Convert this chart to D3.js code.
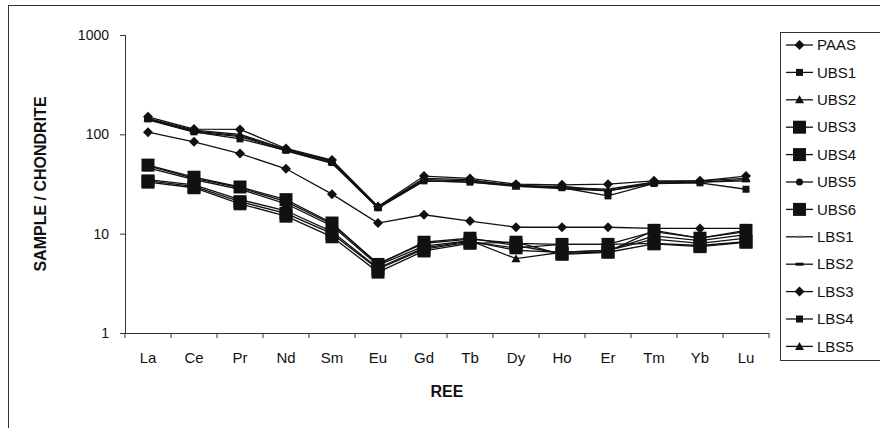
<!DOCTYPE html>
<html>
<head>
<meta charset="utf-8">
<script src="https://cdn.jsdelivr.net/npm/d3@7"></script>
<style>
  body { margin: 0; background: #fff; }
  svg { display: block; font-family: Arial, "Liberation Sans", sans-serif; }
</style>
</head>
<body>
<svg id="chart" width="880" height="428"></svg>
<script>
var elements = ['La', 'Ce', 'Pr', 'Nd', 'Sm', 'Eu', 'Gd', 'Tb', 'Dy', 'Ho', 'Er', 'Tm', 'Yb', 'Lu'];
var yTicks = [1, 10, 100, 1000];

var PAAS = [105, 84, 64, 45, 25, 12.8, 15.5, 13.4, 11.6, 11.6, 11.6, 11.3, 11.3, 11.3];
var UBS1 = [48, 36, 29, 21, 12.5, 5.0, 8.0, 8.8, 8.0, 7.8, 7.8, 10.5, 9.0, 10.5];
var UBS2 = [46, 35, 28, 20, 12, 4.8, 7.5, 8.5, 5.6, 6.5, 6.8, 9.5, 8.5, 9.8];
var UBS3 = [49, 37, 29.5, 22, 12.8, 4.9, 8.2, 9.0, 7.6, 6.3, 6.6, 10.8, 9.0, 10.8];
var UBS4 = [34, 30, 21, 16, 10, 4.4, 7.0, 8.2, 7.2, 7.8, 7.8, 8.0, 7.6, 8.3];
var UBS5 = [35, 31, 22, 17, 10.5, 4.5, 7.2, 8.4, 6.8, 6.5, 6.8, 8.8, 8.0, 9.0];
var UBS6 = [33, 29, 20, 15, 9.3, 4.1, 6.7, 8.0, 8.2, 6.2, 6.5, 7.9, 7.4, 8.2];
var LBS1 = [142, 108, 97, 70, 53, 18.5, 35, 34, 31, 29, 28, 33, 33, 35];
var LBS2 = [140, 105, 95, 68, 51, 18.0, 34, 33, 30, 28.5, 27, 32, 33, 34];
var LBS3 = [150, 113, 112, 72, 55, 18.8, 38, 36, 31.5, 31, 31.5, 34, 34, 38];
var LBS4 = [143, 106, 90, 69, 52, 18.2, 34, 33, 30.5, 29, 24, 32, 32.5, 28];
var LBS5 = [145, 110, 100, 71, 54, 18.6, 36, 35, 30, 30, 27, 33, 34, 36];

// marker shapes, drawn around (0,0)
var markers = {
  diamond: 'M0,-5L5,0L0,5L-5,0Z',
  square: 'M-3.5,-3.5h7v7h-7Z',
  bigSquare: 'M-6.5,-6.5h13v13h-13Z',
  triangle: 'M0,-4.5L4.5,3.5L-4.5,3.5Z',
  circle: 'M3.5,0A3.5,3.5 0 1 1 -3.5,0A3.5,3.5 0 1 1 3.5,0Z',
  dashSmall: 'M-3,-1h6v2h-6Z',
  dash: 'M-4,-1.5h8v3h-8Z'
};

var series = [
  { name: 'PAAS', values: PAAS, marker: 'diamond' },
  { name: 'UBS1', values: UBS1, marker: 'square' },
  { name: 'UBS2', values: UBS2, marker: 'triangle' },
  { name: 'UBS3', values: UBS3, marker: 'bigSquare' },
  { name: 'UBS4', values: UBS4, marker: 'bigSquare' },
  { name: 'UBS5', values: UBS5, marker: 'circle' },
  { name: 'UBS6', values: UBS6, marker: 'bigSquare' },
  { name: 'LBS1', values: LBS1, marker: 'dashSmall' },
  { name: 'LBS2', values: LBS2, marker: 'dash' },
  { name: 'LBS3', values: LBS3, marker: 'diamond' },
  { name: 'LBS4', values: LBS4, marker: 'square' },
  { name: 'LBS5', values: LBS5, marker: 'triangle' }
];

var svg = d3.select('#chart');
var ink = '#111';

// outer chart frame (runs off the right and bottom edges)
svg.append('rect')
  .attr('x', 8.5).attr('y', 5.5)
  .attr('width', 900).attr('height', 500)
  .attr('fill', 'none')
  .attr('stroke', '#333')
  .attr('stroke-width', 1);

var plot = { left: 125, right: 769, top: 35, bottom: 333 };

var x = d3.scaleBand()
  .domain(elements)
  .range([plot.left, plot.right]);

var y = d3.scaleLog()
  .domain([1, 1000])
  .range([plot.bottom, plot.top]);

// y axis
var yAxis = svg.append('g')
  .attr('transform', 'translate(' + plot.left + ',0)')
  .call(d3.axisLeft(y).tickValues(yTicks).tickFormat(d3.format('d')).tickSize(5).tickPadding(11));

// x axis, ticks sit between categories
var xAxis = svg.append('g')
  .attr('transform', 'translate(0,' + plot.bottom + ')')
  .call(d3.axisBottom(x).tickSize(0).tickPadding(19));

xAxis.selectAll('.tick-mark')
  .data(d3.range(elements.length + 1))
  .enter().append('line')
    .attr('x1', function(i) { return plot.left + i * x.step(); })
    .attr('x2', function(i) { return plot.left + i * x.step(); })
    .attr('y1', 0).attr('y2', 5)
    .attr('stroke', '#333');

yAxis.selectAll('text').attr('fill', ink).style('font-size', '14px');
xAxis.selectAll('text').attr('fill', ink).style('font-size', '15px');
[yAxis, xAxis].forEach(function(ax) {
  ax.selectAll('text').style('font-family', 'Arial, "Liberation Sans", sans-serif');
  ax.selectAll('.tick line').attr('stroke', '#333');
  ax.select('.domain').remove();
});

svg.append('line')
  .attr('x1', plot.left + 0.5).attr('x2', plot.left + 0.5)
  .attr('y1', plot.top).attr('y2', plot.bottom)
  .attr('stroke', '#333');
svg.append('line')
  .attr('x1', plot.left).attr('x2', plot.right)
  .attr('y1', plot.bottom + 0.5).attr('y2', plot.bottom + 0.5)
  .attr('stroke', '#333');

// axis titles
svg.append('text')
  .attr('x', (plot.left + plot.right) / 2)
  .attr('y', 397)
  .attr('text-anchor', 'middle')
  .attr('fill', ink)
  .style('font-size', '16px').style('font-weight', 'bold')
  .text('REE');

svg.append('text')
  .attr('transform', 'translate(46,' + ((plot.top + plot.bottom) / 2) + ') rotate(-90)')
  .attr('text-anchor', 'middle')
  .attr('fill', ink)
  .style('font-size', '16px').style('font-weight', 'bold')
  .text('SAMPLE / CHONDRITE');

// lines with markers, one series at a time
var line = d3.line()
  .x(function(d, i) { return x(elements[i]) + x.bandwidth() / 2; })
  .y(function(d) { return y(d); });

series.forEach(function(s) {
  var g = svg.append('g').attr('class', 'series ' + s.name);
  g.append('path')
    .attr('d', line(s.values))
    .attr('fill', 'none')
    .attr('stroke', ink)
    .attr('stroke-width', 1.3);
  g.selectAll('path.marker')
    .data(s.values).enter()
    .append('path')
      .attr('class', 'marker')
      .attr('d', markers[s.marker])
      .attr('fill', s.marker === 'dashSmall' ? '#666' : ink)
      .attr('transform', function(d, i) {
        return 'translate(' + (x(elements[i]) + x.bandwidth() / 2) + ',' + y(d) + ')';
      });
});

// legend
var legend = svg.append('g').attr('transform', 'translate(780,32)');
legend.append('rect')
  .attr('x', 0.5).attr('y', 0.5)
  .attr('width', 120).attr('height', 328)
  .attr('fill', '#fff')
  .attr('stroke', '#333');

var rows = legend.selectAll('g.row')
  .data(series).enter()
  .append('g')
    .attr('class', 'row')
    .attr('transform', function(d, i) { return 'translate(0,' + (13 + i * 27.4) + ')'; });

rows.append('line')
  .attr('x1', 6).attr('x2', 33)
  .attr('stroke', ink).attr('stroke-width', 1.3);
rows.append('path')
  .attr('d', function(d) { return markers[d.marker]; })
  .attr('fill', function(d) { return d.marker === 'dashSmall' ? '#666' : ink; })
  .attr('transform', 'translate(19.5,0)');
rows.append('text')
  .attr('x', 37)
  .attr('dy', '0.35em')
  .attr('fill', ink)
  .style('font-size', '15px')
  .text(function(d) { return d.name; });
</script>
</body>
</html>
